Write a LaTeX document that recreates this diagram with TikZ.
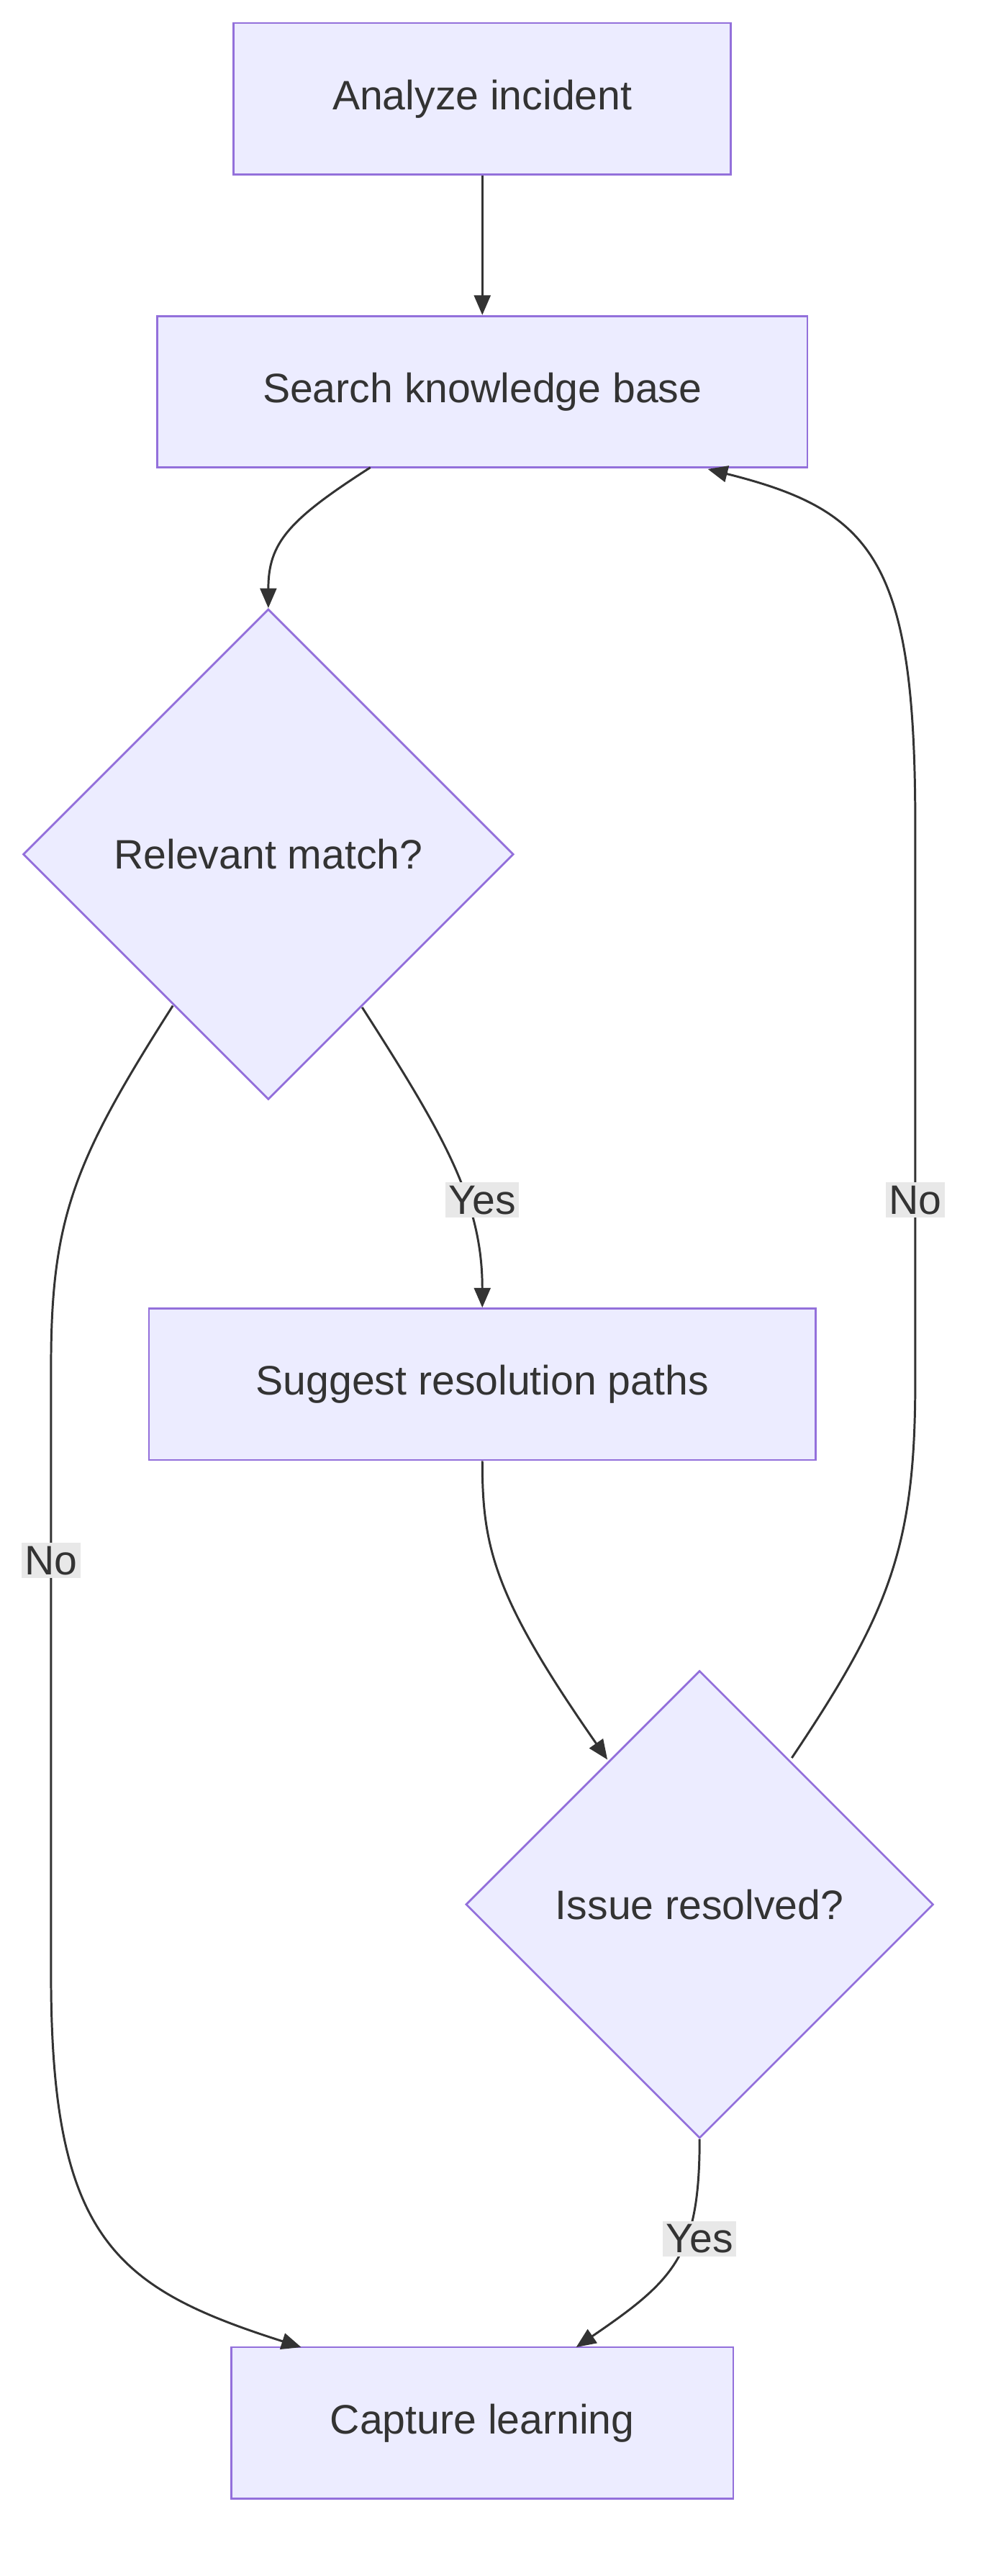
\documentclass[tikz,border=0pt]{standalone}
\usepackage{fontspec}
\setmainfont{Liberation Sans}
\usetikzlibrary{shapes.geometric,arrows.meta}
\definecolor{boxfill}{HTML}{ECECFF}
\definecolor{boxline}{HTML}{9370DB}
\definecolor{ink}{HTML}{333333}
\definecolor{lblfill}{HTML}{E8E8E8}
\tikzset{
  stepbox/.style={draw=boxline, fill=boxfill, line width=1.2pt, minimum height=92pt, text=ink, font=\fontsize{25}{30}\selectfont},
  check/.style={diamond, aspect=1, draw=boxline, fill=boxfill, line width=1.2pt, inner sep=0pt, text=ink, font=\fontsize{25}{30}\selectfont},
  link/.style={draw=ink, line width=1.3pt, -{Triangle[length=12pt,width=10pt]}},
  lbl/.style={fill=lblfill, text=ink, inner sep=2pt, font=\fontsize{25}{30}\selectfont},
}
\begin{document}
\begin{tikzpicture}[x=1pt,y=1pt,yscale=-1,xscale=1]
	\useasboundingbox (0,0) rectangle (600,1565);

	% Steps
	\node [stepbox, minimum width=302pt] (analyze) at (293,60) {Analyze incident};
	\node [stepbox, minimum width=395pt] (search) at (293,238) {Search knowledge base};
	\node [stepbox, minimum width=405pt] (suggest) at (293,841) {Suggest resolution paths};
	\node [stepbox, minimum width=305pt] (capture) at (293,1472) {Capture learning};
	% Decisions
	\node [check, minimum size=298pt] (match) at (163,519) {Relevant match?};
	\node [check, minimum size=284pt] (resolved) at (425,1157) {Issue resolved?};

	% Connectors
	\draw [link] (analyze) -- (search);
	\draw [link] (225,284) .. controls (175,316) and (163,330) .. (match.north);
	\draw [link] (220,612) .. controls (270,690) and (293,730) .. (suggest.north);
	\draw [link] (105,611) .. controls (45,705) and (31,740) .. (31,830) -- (31,1200) .. controls (31,1360) and (70,1390) .. (183,1426);
	\draw [link] (suggest.south) .. controls (293,940) and (300,970) .. (369,1069);
	\draw [link] (481,1068) .. controls (540,980) and (556,940) .. (556,840) -- (556,500) .. controls (556,340) and (530,310) .. (430,285);
	\draw [link] (resolved.south) .. controls (425,1370) and (410,1385) .. (350,1426);

	% Labels
	\node [lbl] (yesmatch) at (293,729) {Yes};
	\node [lbl] (nomatch) at (31,948) {No};
	\node [lbl] (noresolved) at (556,729) {No};
	\node [lbl] (yesresolved) at (425,1360) {Yes};
\end{tikzpicture}
\end{document}
